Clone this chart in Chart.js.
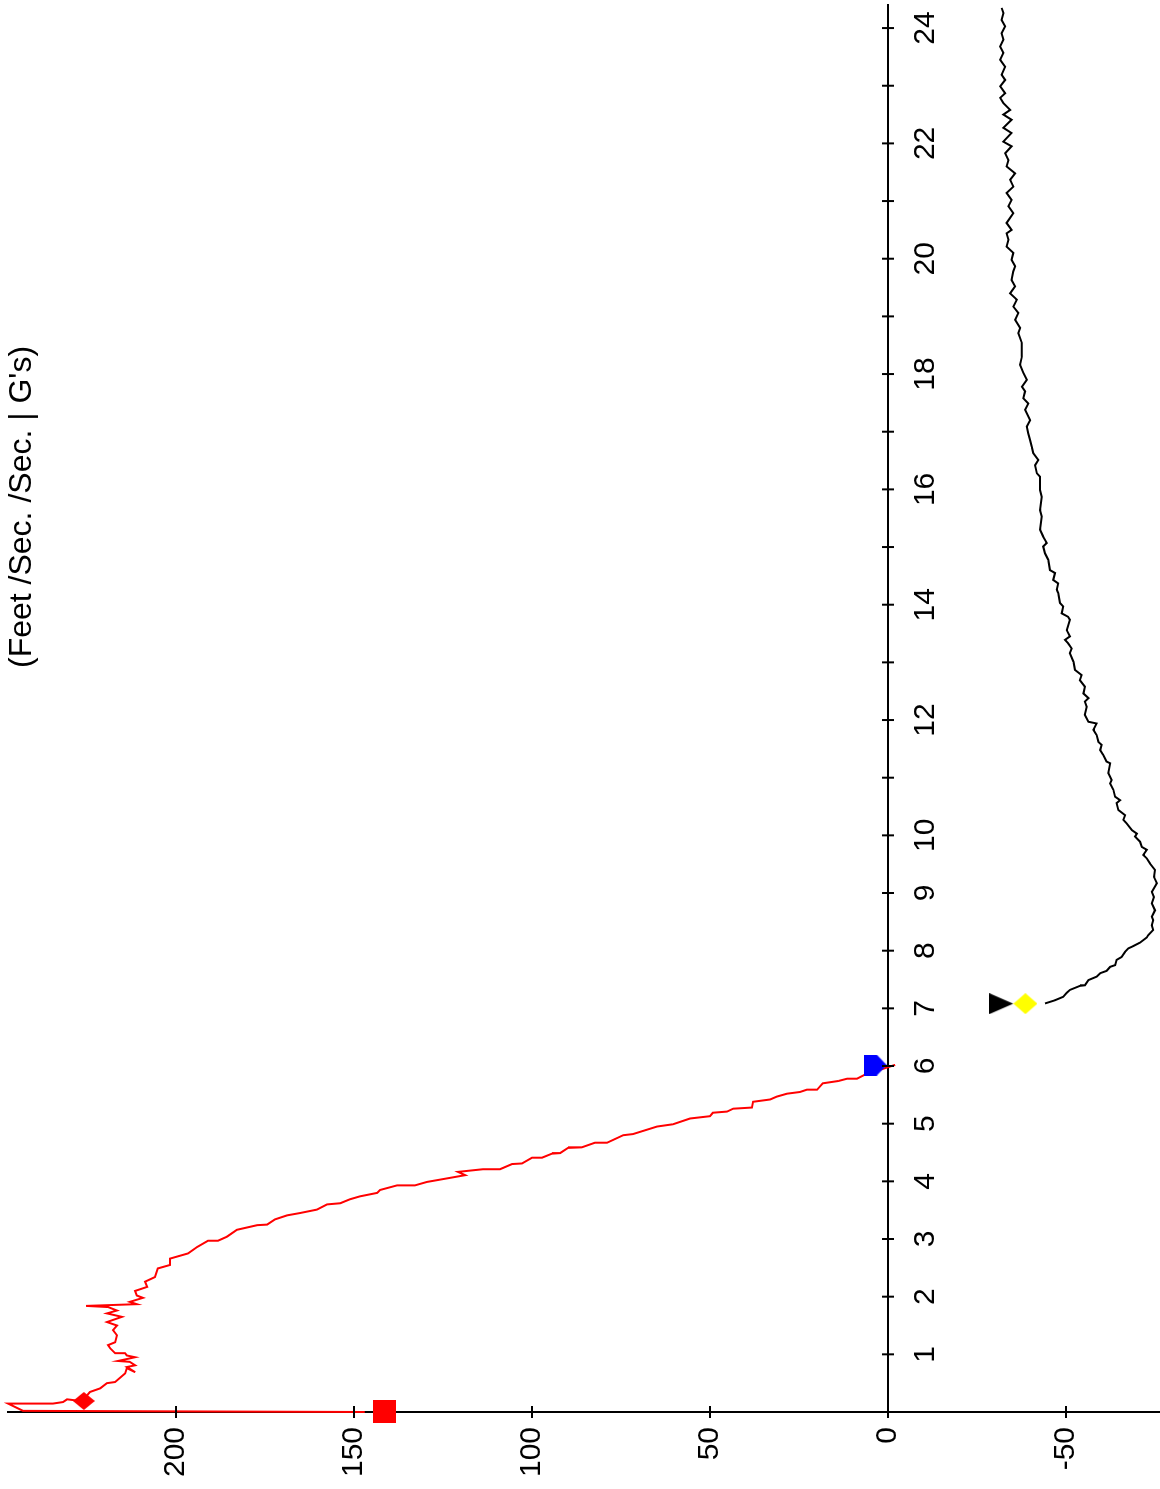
<!DOCTYPE html>
<html><head><meta charset="utf-8">
<script src="https://cdn.jsdelivr.net/npm/chart.js@4.4.1/dist/chart.umd.min.js"></script>
<style>
html,body{margin:0;padding:0;background:#fff;overflow:hidden;width:1160px;height:1489px;}
#wrap{position:absolute;left:0;top:0;width:1489px;height:1160px;transform-origin:0 0;transform:translate(0px,1489px) rotate(-90deg);}
canvas{display:block;}
</style></head><body>
<div id="wrap"><canvas id="c" width="1489" height="1160"></canvas></div>
<script>
// ---- data (time in seconds, value) ----
const velTime = [0.00,0.02,0.146,0.146,0.173,0.22,0.20,0.25,0.347,0.41,
 0.50,0.52,0.67,0.76,0.69,0.78,0.81,0.87,0.885,0.95,
 0.98,1.02,1.02,1.105,1.16,1.21,1.33,1.42,1.50,1.56,
 1.65,1.71,1.76,1.82,1.84,1.87,1.91,1.98,2.02,2.10,
 2.17,2.26,2.34,2.49,2.55,2.66,2.75,2.86,2.97,2.97,
 3.04,3.16,3.24,3.25,3.34,3.41,3.45,3.51,3.60,3.62,
 3.69,3.74,3.80,3.85,3.93,3.93,3.99,4.03,4.107,4.164,
 4.21,4.21,4.30,4.31,4.41,4.41,4.48,4.49,4.58,4.59,
 4.67,4.67,4.80,4.82,4.95,4.99,5.09,5.13,5.19,5.21,
 5.26,5.28,5.38,5.42,5.47,5.52,5.55,5.59,5.59,5.70,
 5.74,5.78,5.78,5.85,6.02];
const velValue = [147,243,247.2,234.6,231.7,230.6,228,225.5,224.2,221.3,
 219.4,217.1,214.3,213.8,211.5,213.8,211.5,213.0,216.3,211.5,
 213.8,214.3,217.1,218.5,219.1,217.1,216.6,217.7,216.6,219.4,
 215.2,219.4,216.6,219.1,225.3,211,213,209.3,211.0,211.5,
 208.1,208.7,205.9,205.1,201.7,201.7,196.6,194.1,191.0,188.2,
 185.7,182.9,177.2,174.4,172.2,168.8,165.2,160.4,157.6,153.9,
 151.1,148.3,143.5,142.7,137.9,132.9,129.5,125.8,118.8,120.8,
 113.8,109.0,105.6,102.8,100.0,97.2,94.4,92.1,89.9,86.0,
 82.3,78.9,74.4,71.6,64.9,60.4,55.6,50.0,49.2,45.2,
 43.5,38.2,37.9,33.1,31.2,28.4,24.7,22.8,19.9,18.3,
 14.0,11.5,8.7,6.5,-2.0];

const accTime = [7.085,7.14,7.20,7.27,7.32,7.39,7.40,7.49,7.55,7.61,
 7.65,7.72,7.75,7.84,7.89,7.98,8.04,8.08,8.14,8.23,
 8.27,8.36,8.44,8.53,8.59,8.70,8.82,8.93,9.02,9.17,
 9.28,9.40,9.51,9.60,9.66,9.75,9.80,9.89,9.98,10.03,
 10.09,10.21,10.27,10.35,10.44,10.56,10.61,10.67,10.79,10.90,
 10.96,11.08,11.25,11.28,11.39,11.48,11.57,11.62,11.74,11.83,
 11.94,11.97,12.09,12.23,12.32,12.38,12.46,12.58,12.69,12.78,
 12.87,13.01,13.16,13.24,13.33,13.39,13.45,13.56,13.74,13.79,
 13.85,13.97,14.03,14.20,14.26,14.37,14.43,14.55,14.60,14.78,
 14.89,15.01,15.07,15.18,15.30,15.53,15.64,15.87,15.99,16.22,
 16.28,16.42,16.51,16.63,16.74,16.86,16.97,17.09,17.20,17.38,
 17.49,17.58,17.70,17.78,17.90,18.02,18.16,18.30,18.42,18.54,
 18.71,18.80,18.94,19.06,19.17,19.29,19.40,19.52,19.63,19.78,
 19.87,19.98,20.10,20.21,20.33,20.44,20.50,20.62,20.79,20.91,
 21.02,21.14,21.25,21.37,21.48,21.60,21.71,21.83,21.95,22.03,
 22.18,22.27,22.41,22.50,22.58,22.70,22.79,22.87,22.99,23.10,
 23.19,23.33,23.45,23.57,23.68,23.80,23.91,24.03,24.14,24.26,
 24.35];
const accValue = [-44.1,-46.9,-49.2,-50.2,-51.1,-53.9,-55.3,-56.3,-58.6,-59.6,
 -61.4,-62.4,-63.8,-64.2,-65.6,-66.6,-67.5,-68.9,-70.8,-72.7,
 -73.1,-74.5,-74.1,-74.5,-74.1,-75.0,-74.1,-74.7,-74.1,-75.5,
 -74.7,-75.0,-73.6,-72.7,-71.7,-72.7,-71.3,-70.8,-69.4,-69.9,
 -68.5,-67.0,-66.1,-66.6,-64.7,-64.2,-65.2,-63.8,-63.3,-62.4,
 -62.8,-61.9,-62.4,-61.4,-60.5,-59.6,-60.0,-59.1,-58.6,-57.7,
 -58.6,-56.3,-55.3,-55.8,-55.3,-56.3,-54.9,-55.3,-53.9,-54.4,
 -52.5,-52.1,-51.1,-51.6,-50.6,-49.7,-51.1,-50.2,-51.1,-50.6,
 -48.8,-49.2,-48.3,-47.8,-47.4,-47.8,-46.4,-46.9,-45.5,-45.0,
 -44.1,-43.6,-44.6,-43.6,-42.7,-43.2,-42.7,-43.2,-42.7,-42.7,
 -41.8,-41.3,-42.2,-40.8,-40.4,-39.9,-39.4,-39.0,-39.9,-38.5,
 -39.4,-38.0,-38.5,-37.6,-39.0,-38.0,-37.1,-37.6,-37.6,-37.6,
 -36.6,-37.1,-35.7,-36.6,-35.2,-36.2,-34.3,-35.7,-34.7,-35.2,
 -35.7,-34.7,-35.2,-33.3,-33.8,-33.3,-34.7,-33.3,-35.2,-33.8,
 -34.7,-33.3,-35.2,-34.3,-35.7,-33.3,-33.8,-32.9,-34.7,-32.4,
 -34.7,-32.4,-34.7,-32.4,-34.3,-32.4,-31.5,-32.9,-31.5,-32.9,
 -31.9,-32.9,-31.5,-32.4,-31.5,-32.4,-31.9,-32.9,-31.9,-32.4,
 -31.9];

// event markers: start, peak, zero-crossing, triangle, diamond
const markerTime  = [0.00, 0.19, 6.015, 7.08, 7.08];
const markerValue = [141.4, 225.9, 3.6, -31.8, -38.6];

const timeTickLabels = [1,2,3,4,5,6,7,8,9,10,12,14,16,18,20,22,24];
const axisTitle = "(Feet /Sec. /Sec. | G's)";

// ---- styles ----
function shape(w, h, pts, color) {
  const c = document.createElement('canvas');
  c.width = w; c.height = h;
  const g = c.getContext('2d');
  g.fillStyle = color;
  g.beginPath();
  pts.forEach((p, i) => i ? g.lineTo(p[0], p[1]) : g.moveTo(p[0], p[1]));
  g.closePath(); g.fill();
  return c;
}
const markerStyles = [
  shape(23, 23, [[0,0],[23,0],[23,23],[0,23]], '#ff0000'),
  shape(18, 22, [[9,0],[18,11],[9,22],[0,11]], '#ff0000'),
  shape(21, 23, [[0,0],[21,0],[21,13],[10.5,23],[0,13]], '#0000ff'),
  shape(21, 24, [[0,0],[21,0],[10.5,24]], '#000000'),
  shape(21, 24, [[10.5,0],[21,12],[10.5,24],[0,12]], '#ffff00')
];

const zip = (xs, ys) => xs.map((x, i) => ({x: x, y: ys[i]}));

const markerSets = markerTime.map((t, i) => ({
  data: [{x: t, y: markerValue[i]}],
  pointStyle: markerStyles[i],
  pointRadius: 10,
  showLine: false,
  clip: false
}));

Chart.defaults.font.family = "'Liberation Sans', Arial, sans-serif";
Chart.defaults.color = '#000';

const crossTicks = {
  id: 'crossTicks',
  afterDraw(chart) {
    const ctx = chart.ctx, xs = chart.scales.x, ys = chart.scales.y;
    const y0 = ys.getPixelForValue(0);
    const x0 = chart.chartArea.left;
    ctx.save();
    ctx.strokeStyle = '#000'; ctx.lineWidth = 2;
    xs.ticks.forEach(t => {
      if (t.value === 0) return;
      const px = xs.getPixelForValue(t.value);
      ctx.beginPath(); ctx.moveTo(px, y0 - 6); ctx.lineTo(px, y0 + 6); ctx.stroke();
    });
    ys.ticks.forEach(t => {
      const py = ys.getPixelForValue(t.value);
      ctx.beginPath(); ctx.moveTo(x0 - 6, py); ctx.lineTo(x0 + 6, py); ctx.stroke();
    });
    ctx.font = "32px 'Liberation Sans', Arial, sans-serif";
    ctx.fillStyle = '#000';
    ctx.textAlign = 'left'; ctx.textBaseline = 'alphabetic';
    ctx.fillText(axisTitle, 821, 31);
    ctx.restore();
  }
};

new Chart(document.getElementById('c'), {
  type: 'scatter',
  data: {
    datasets: markerSets.concat([
      {data: zip(velTime, velValue), showLine: true, borderColor: '#ff0000', borderWidth: 2, pointRadius: 0, tension: 0, fill: false, clip: false},
      {data: zip(accTime, accValue), showLine: true, borderColor: '#000000', borderWidth: 2, pointRadius: 0, tension: 0, fill: false, clip: false}
    ])
  },
  options: {
    responsive: false,
    animation: false,
    devicePixelRatio: 1,
    layout: {autoPadding: false, padding: {top: 8, right: 5, left: 0, bottom: 0}},
    plugins: {legend: {display: false}, tooltip: {enabled: false}, title: {display: false}},
    events: [],
    scales: {
      x: {
        type: 'linear', position: {y: 0}, min: 0, max: 24.4,
        grid: {display: false, drawTicks: false},
        border: {display: true, color: '#000', width: 2},
        ticks: {
          stepSize: 1, autoSkip: false, maxRotation: 0, minRotation: 0, includeBounds: false,
          padding: 20, color: '#000', font: {size: 30},
          callback: v => timeTickLabels.includes(v) ? String(v) : ''
        },
        afterFit(s) { s.height = 0; s.paddingLeft = 0; s.paddingRight = 0; }
      },
      y: {
        type: 'linear', position: 'left', min: -76.4, max: 247.2,
        grid: {display: false, drawTicks: false},
        border: {display: true, color: '#000', width: 2},
        ticks: {stepSize: 50, includeBounds: false, padding: 15, color: '#000', font: {size: 30}},
        afterFit(s) { s.width = 77; s.paddingTop = 0; s.paddingBottom = 0; }
      }
    }
  },
  plugins: [crossTicks]
});
</script>
</body></html>
